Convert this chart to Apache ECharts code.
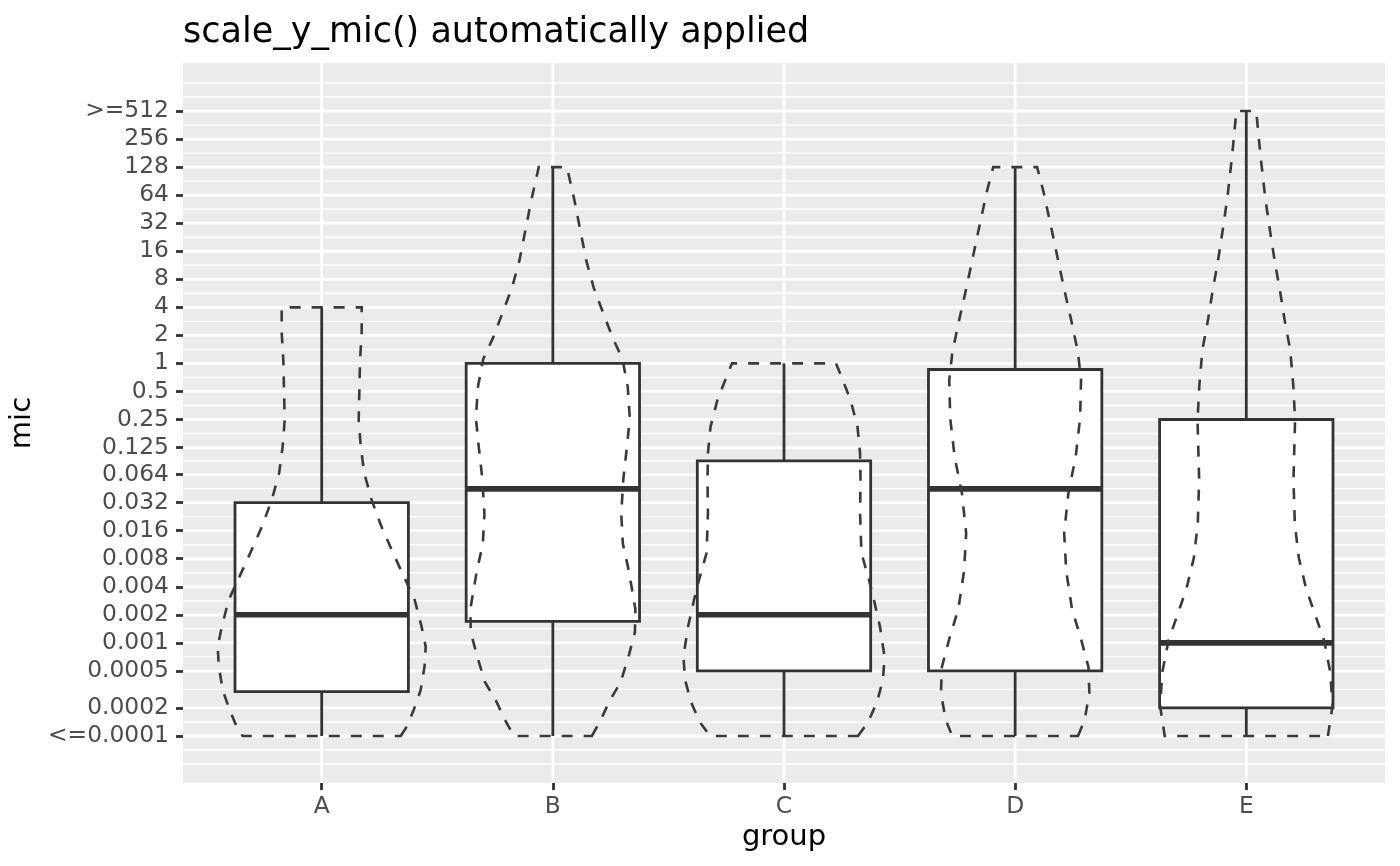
<!DOCTYPE html>
<html>
<head>
<meta charset="utf-8">
<script src="https://cdn.jsdelivr.net/npm/echarts@6/dist/echarts.min.js"></script>
<style>
  html, body { margin: 0; padding: 0; background: #ffffff; }
  #chart { width: 1400px; height: 866px; }
</style>
</head>
<body>
<div id="chart"></div>
<script>
// ---------------- data ----------------
const groups = ['A', 'B', 'C', 'D', 'E'];

const yBreaks = [0.0001, 0.0002, 0.0005, 0.001, 0.002, 0.004, 0.008, 0.016, 0.032, 0.064,
                 0.125, 0.25, 0.5, 1, 2, 4, 8, 16, 32, 64, 128, 256, 512];
const yTickLabels = ['<=0.0001', '0.0002', '0.0005', '0.001', '0.002', '0.004', '0.008', '0.016',
                     '0.032', '0.064', '0.125', '0.25', '0.5', '1', '2', '4', '8', '16', '32',
                     '64', '128', '256', '>=512'];

// boxplot statistics (mic values)
const boxLow    = [0.0001, 0.0001, 0.0001, 0.0001, 0.0001];
const boxQ1     = [0.0003, 0.0017, 0.0005, 0.0005, 0.0002];
const boxMedian = [0.002, 0.045, 0.002, 0.045, 0.001];
const boxQ3     = [0.032, 1, 0.09, 0.86, 0.25];
const boxHigh   = [4, 128, 1, 128, 512];

// violin outlines: [mic, half width in group units], bottom to top
const violinA = [[0.0001, 0.342], [0.000126, 0.368], [0.00019, 0.398], [0.00031, 0.428],
  [0.00056, 0.445], [0.00091, 0.450], [0.0015, 0.432], [0.0029, 0.402], [0.0047, 0.363],
  [0.0092, 0.309], [0.0176, 0.259], [0.0342, 0.216], [0.0666, 0.184], [0.128, 0.169],
  [0.247, 0.160], [1.09, 0.166], [2.12, 0.173], [4, 0.173]];
const violinB = [[0.0001, 0.169], [0.00015, 0.208], [0.00024, 0.246], [0.00038, 0.294],
  [0.00074, 0.329], [0.0013, 0.355], [0.0023, 0.357], [0.0059, 0.329], [0.0115, 0.303],
  [0.0242, 0.296], [0.0576, 0.305], [0.124, 0.320], [0.259, 0.333], [0.56, 0.324],
  [1.12, 0.301], [1.88, 0.259], [3.32, 0.221], [6.46, 0.177], [12.6, 0.145], [29.9, 0.115],
  [57, 0.093], [128, 0.061]];
const violinC = [[0.0001, 0.320], [0.00014, 0.363], [0.00023, 0.402], [0.0004, 0.428],
  [0.00071, 0.435], [0.0015, 0.415], [0.0029, 0.389], [0.0047, 0.368], [0.0092, 0.335],
  [0.0247, 0.329], [0.056, 0.331], [0.109, 0.329], [0.208, 0.318], [0.405, 0.288],
  [0.79, 0.242], [1, 0.225]];
const violinD = [[0.0001, 0.272], [0.00015, 0.301], [0.00029, 0.321], [0.00055, 0.317],
  [0.0011, 0.285], [0.0023, 0.246], [0.0059, 0.221], [0.015, 0.212], [0.040, 0.230],
  [0.10, 0.262], [0.259, 0.281], [0.665, 0.285], [1.3, 0.272], [2.8, 0.244], [5.4, 0.218],
  [11.4, 0.190], [24.5, 0.162], [69, 0.123], [128, 0.095]];
const violinE = [[0.0001, 0.353], [0.00021, 0.373], [0.00049, 0.363], [0.00105, 0.337],
  [0.002, 0.298], [0.0038, 0.259], [0.0082, 0.227], [0.0189, 0.210], [0.056, 0.204],
  [0.247, 0.211], [0.59, 0.203], [1.4, 0.190], [2.9, 0.166], [6.2, 0.145], [11.6, 0.125],
  [25.1, 0.104], [59.8, 0.082], [173, 0.061], [512, 0.043]];
const violins = [violinA, violinB, violinC, violinD, violinE];

// ---------------- helpers ----------------
const L = Math.log2;
const majorY = yBreaks.map(L);
const minorY = [];
(function () {
  const ext = [majorY[0] - (majorY[1] - majorY[0])].concat(majorY,
    [majorY[majorY.length - 1] + (majorY[majorY.length - 1] - majorY[majorY.length - 2])]);
  minorY.push(ext[0], ext[ext.length - 1]);
  for (let i = 0; i < ext.length - 1; i++) minorY.push((ext[i] + ext[i + 1]) / 2);
})();
const groupPos = groups.map((g, i) => i);

const PANEL = '#EBEBEB';
const INK = '#333333';
const FONT = 'DejaVu Sans';

function hLine(width) {
  return function (params, api) {
    const cs = params.coordSys;
    const y = api.coord([0, api.value(1)])[1];
    return { type: 'line', shape: { x1: cs.x, y1: y, x2: cs.x + cs.width, y2: y },
             style: { stroke: '#ffffff', lineWidth: width }, silent: true };
  };
}
function vLine(width) {
  return function (params, api) {
    const cs = params.coordSys;
    const x = api.coord([api.value(0), 0])[0];
    return { type: 'line', shape: { x1: x, y1: cs.y, x2: x, y2: cs.y + cs.height },
             style: { stroke: '#ffffff', lineWidth: width }, silent: true };
  };
}

const BOX_HALF = 0.375;
function renderBox(params, api) {
  const x = api.value(0);
  const lo = api.value(1), q1 = api.value(2), md = api.value(3), q3 = api.value(4), hi = api.value(5);
  const pLo = api.coord([x, lo]), pQ1 = api.coord([x, q1]), pQ3 = api.coord([x, q3]), pHi = api.coord([x, hi]);
  const tl = api.coord([x - BOX_HALF, q3]), br = api.coord([x + BOX_HALF, q1]);
  const ml = api.coord([x - BOX_HALF, md]), mr = api.coord([x + BOX_HALF, md]);
  const ls = { stroke: INK, lineWidth: 2.8 };
  return { type: 'group', children: [
    { type: 'line', shape: { x1: pLo[0], y1: pLo[1], x2: pQ1[0], y2: pQ1[1] }, style: ls },
    { type: 'line', shape: { x1: pQ3[0], y1: pQ3[1], x2: pHi[0], y2: pHi[1] }, style: ls },
    { type: 'rect', shape: { x: tl[0], y: tl[1], width: br[0] - tl[0], height: br[1] - tl[1] },
      style: { fill: '#ffffff', stroke: INK, lineWidth: 2.8 } },
    { type: 'line', shape: { x1: ml[0], y1: ml[1], x2: mr[0], y2: mr[1] },
      style: { stroke: INK, lineWidth: 5.6 } }
  ] };
}

function renderViolin(params, api) {
  const i = api.value(0);
  const prof = violins[i];
  const right = prof.map(p => api.coord([i + p[1], L(p[0])]));
  const left = prof.slice().reverse().map(p => api.coord([i - p[1], L(p[0])]));
  return { type: 'polygon', shape: { points: right.concat(left) },
           style: { fill: 'none', stroke: '#3a3a3a', lineWidth: 2.6, lineDash: [11, 11] } };
}

// ---------------- chart ----------------
const chart = echarts.init(document.getElementById('chart'), null, { renderer: 'canvas' });
const option = {
  animation: false,
  backgroundColor: '#ffffff',
  title: {
    text: 'scale_y_mic() automatically applied',
    left: 178, top: 10,
    textStyle: { fontFamily: FONT, fontSize: 35, fontWeight: 'normal', color: '#000000' }
  },
  grid: { left: 183, right: 15, top: 63, bottom: 83, show: true, backgroundColor: PANEL, borderWidth: 0 },
  xAxis: {
    type: 'value', min: -0.6, max: 4.6, position: 'bottom',
    name: 'group', nameLocation: 'middle', nameGap: 36,
    nameTextStyle: { fontFamily: FONT, fontSize: 29, color: '#000000' },
    axisLine: { show: false, onZero: false },
    axisTick: { show: true, customValues: groupPos, length: 7, lineStyle: { color: INK, width: 2.8 } },
    axisLabel: { customValues: groupPos, margin: 12, fontFamily: FONT, fontSize: 23.4, color: '#4D4D4D',
                 formatter: v => groups[Math.round(v)] },
    splitLine: { show: false }
  },
  yAxis: {
    type: 'value', min: -14.964, max: 10.714, position: 'left',
    name: 'mic', nameLocation: 'middle', nameGap: 127, nameRotate: 90,
    nameTextStyle: { fontFamily: FONT, fontSize: 29, color: '#000000' },
    axisLine: { show: false, onZero: false },
    axisTick: { show: true, customValues: majorY, length: 7, lineStyle: { color: INK, width: 2.8 } },
    axisLabel: { customValues: majorY, margin: 14, fontFamily: FONT, fontSize: 23.4, color: '#4D4D4D',
                 verticalAlign: 'middle', padding: [3, 0, 0, 0],
                 formatter: v => { let k = 0, best = Infinity;
                   majorY.forEach((m, j) => { const d = Math.abs(m - v); if (d < best) { best = d; k = j; } });
                   return yTickLabels[k]; } },
    splitLine: { show: false }
  },
  series: [
    { type: 'custom', name: 'minorGrid', z: 1, silent: true, renderItem: hLine(1.4),
      encode: { x: 0, y: 1 }, data: minorY.map(v => [0, v]) },
    { type: 'custom', name: 'majorGrid', z: 1, silent: true, renderItem: hLine(2.8),
      encode: { x: 0, y: 1 }, data: majorY.map(v => [0, v]) },
    { type: 'custom', name: 'xGrid', z: 1, silent: true, renderItem: vLine(2.8),
      encode: { x: 0, y: 1 }, data: groupPos.map(i => [i, 0]) },
    { type: 'custom', name: 'box', z: 2, renderItem: renderBox,
      encode: { x: 0, y: [1, 2, 3, 4, 5] },
      data: groups.map((g, i) => [i, L(boxLow[i]), L(boxQ1[i]), L(boxMedian[i]), L(boxQ3[i]), L(boxHigh[i])]) },
    { type: 'custom', name: 'violin', z: 3, renderItem: renderViolin,
      encode: { x: 0, y: 1 },
      data: groups.map((g, i) => [i, L(violins[i][0][0])]) }
  ]
};
chart.setOption(option);
</script>
</body>
</html>
